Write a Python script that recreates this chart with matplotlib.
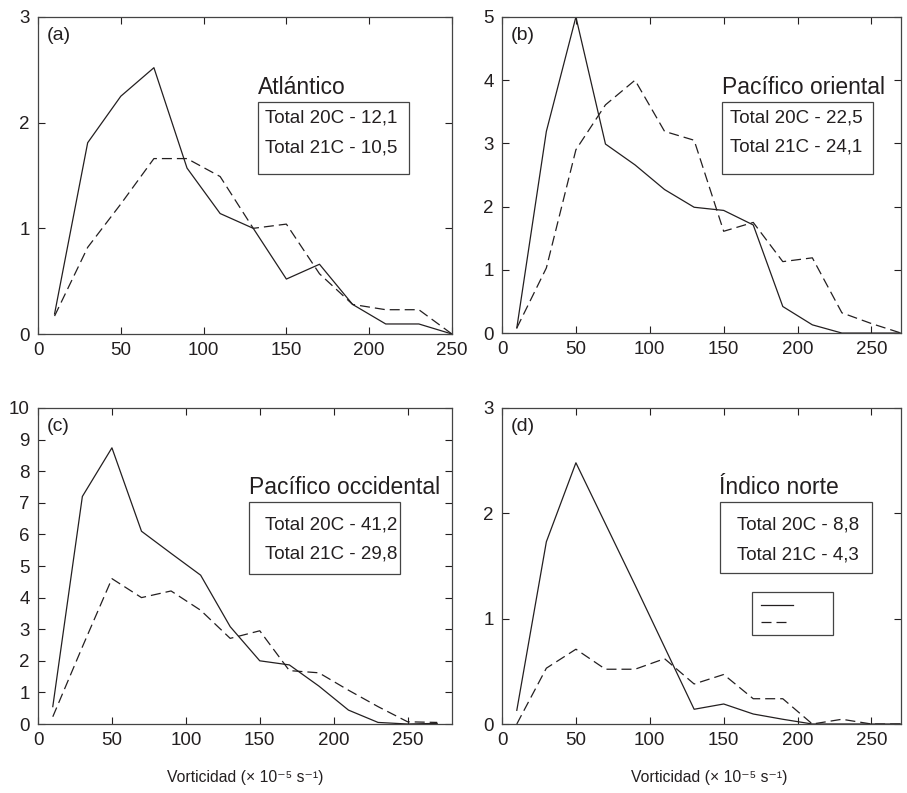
import matplotlib
matplotlib.use("Agg")
import matplotlib.pyplot as plt
from matplotlib.patches import Rectangle
from matplotlib.lines import Line2D

plt.rcParams['font.family'] = ['Liberation Sans', 'DejaVu Sans']

INK = "#231f20"

# bin centres (x 10^-5 s^-1)
x_a = [10, 30, 50, 70, 90, 110, 130, 150, 170, 190, 210, 230, 250]
x_bcd = [10, 30, 50, 70, 90, 110, 130, 150, 170, 190, 210, 230, 250, 270]

# (a) Atlantico
a_20c = [0.19, 1.81, 2.25, 2.52, 1.57, 1.14, 1.0, 0.52, 0.66, 0.28, 0.095, 0.095, 0.0]
a_21c = [0.17, 0.82, 1.23, 1.66, 1.66, 1.49, 1.0, 1.04, 0.57, 0.28, 0.23, 0.23, 0.0]
# (b) Pacifico oriental
b_20c = [0.08, 3.19, 5.0, 2.99, 2.66, 2.27, 1.99, 1.94, 1.71, 0.42, 0.13, 0.0, 0.0, 0.0]
b_21c = [0.08, 1.03, 2.9, 3.61, 4.0, 3.19, 3.05, 1.61, 1.75, 1.13, 1.19, 0.32, 0.15, 0.0]
# (c) Pacifico occidental
c_20c = [0.55, 7.2, 8.74, 6.1, 5.4, 4.71, 3.08, 2.0, 1.87, 1.2, 0.44, 0.05, 0.0, 0.02]
c_21c = [0.23, 2.44, 4.6, 4.0, 4.21, 3.6, 2.71, 2.95, 1.69, 1.62, 1.07, 0.55, 0.07, 0.05]
# (d) Indico norte
d_20c = [0.13, 1.73, 2.48, 1.9, 1.32, 0.73, 0.14, 0.19, 0.095, 0.045, 0.0, 0.0, 0.0, 0.0]
d_21c = [0.0, 0.53, 0.71, 0.52, 0.52, 0.62, 0.38, 0.47, 0.24, 0.24, 0.0, 0.045, 0.0, 0.0]

panels = [
    # tag, region, totals, x, 20C, 21C, xlim, ylim, yticks, axes rect, text layout
    ("(a)", "Atlántico", ("12,1", "10,5"), x_a, a_20c, a_21c, 250, 3, range(0, 4),
     [0.0419, 0.5788, 0.4564, 0.3998],
     dict(title=(0.531, 0.779), box=(0.531, 0.505, 0.365, 0.227), tx=0.548, ty=(0.681, 0.587))),
    ("(b)", "Pacífico oriental", ("22,5", "24,1"), x_bcd, b_20c, b_21c, 270, 5, range(0, 6),
     [0.5535, 0.5800, 0.4399, 0.3986],
     dict(title=(0.551, 0.778), box=(0.551, 0.503, 0.379, 0.228), tx=0.571, ty=(0.680, 0.589))),
    ("(c)", "Pacífico occidental", ("41,2", "29,8"), x_bcd, c_20c, c_21c, 280, 10, range(0, 11),
     [0.0419, 0.0870, 0.4564, 0.3985],
     dict(title=(0.510, 0.747), box=(0.510, 0.475, 0.364, 0.228), tx=0.548, ty=(0.630, 0.538))),
    ("(d)", "Índico norte", ("8,8", "4,3"), x_bcd, d_20c, d_21c, 270, 3, range(0, 4),
     [0.5535, 0.0870, 0.4399, 0.3985],
     dict(title=(0.544, 0.747), box=(0.546, 0.478, 0.381, 0.225), tx=0.589, ty=(0.630, 0.535))),
]

fig = plt.figure(figsize=(9.07, 7.93), dpi=100)

for tag, region, totals, xs, y20, y21, xmax, ymax, yt, rect, lay in panels:
    ax = fig.add_axes(rect)
    ax.plot(xs, y20, color=INK, lw=0.9)
    ln, = ax.plot(xs, y21, color=INK, lw=0.9)
    ln.set_dashes((8, 4))
    ax.set_xlim(0, xmax)
    ax.set_ylim(0, ymax)
    ax.set_xticks(range(0, xmax + 1, 50))
    ax.set_yticks(list(yt))
    ax.tick_params(direction='in', length=5, width=0.8, top=True, right=True,
                   labelsize=13.5, colors=INK, pad=6)
    for s in ax.spines.values():
        s.set_color("#444444")
        s.set_linewidth(0.9)

    ax.text(0.022, 0.94, tag, transform=ax.transAxes, fontsize=14, color=INK,
            ha='left', va='center')
    ax.text(lay["title"][0], lay["title"][1], region, transform=ax.transAxes,
            fontsize=16.5, color=INK, ha='left', va='center')
    bx, by, bw, bh = lay["box"]
    ax.add_patch(Rectangle((bx, by), bw, bh, transform=ax.transAxes, fill=False,
                           ec="#444444", lw=0.9))
    ax.text(lay["tx"], lay["ty"][0], "Total 20C - " + totals[0], transform=ax.transAxes,
            fontsize=13.5, color=INK, ha='left', va='center')
    ax.text(lay["tx"], lay["ty"][1], "Total 21C - " + totals[1], transform=ax.transAxes,
            fontsize=13.5, color=INK, ha='left', va='center')

    if tag in ("(c)", "(d)"):
        cx = 0.5 if tag == "(c)" else 0.52
        ax.text(cx, -0.168, "Vorticidad (× 10⁻⁵ s⁻¹)", transform=ax.transAxes,
                fontsize=11.3, color=INK, ha='center', va='center')

    if tag == "(d)":
        # small key box with the two line styles, no labels
        ax.add_patch(Rectangle((0.627, 0.282), 0.203, 0.136, transform=ax.transAxes,
                               fill=False, ec="#444444", lw=0.9))
        ax.add_line(Line2D([0.648, 0.729], [0.377, 0.377], transform=ax.transAxes,
                           color=INK, lw=0.9))
        k = Line2D([0.648, 0.724], [0.323, 0.323], transform=ax.transAxes,
                   color=INK, lw=0.9)
        k.set_dashes((8, 4))
        ax.add_line(k)

fig.savefig("out.png", dpi=100)
